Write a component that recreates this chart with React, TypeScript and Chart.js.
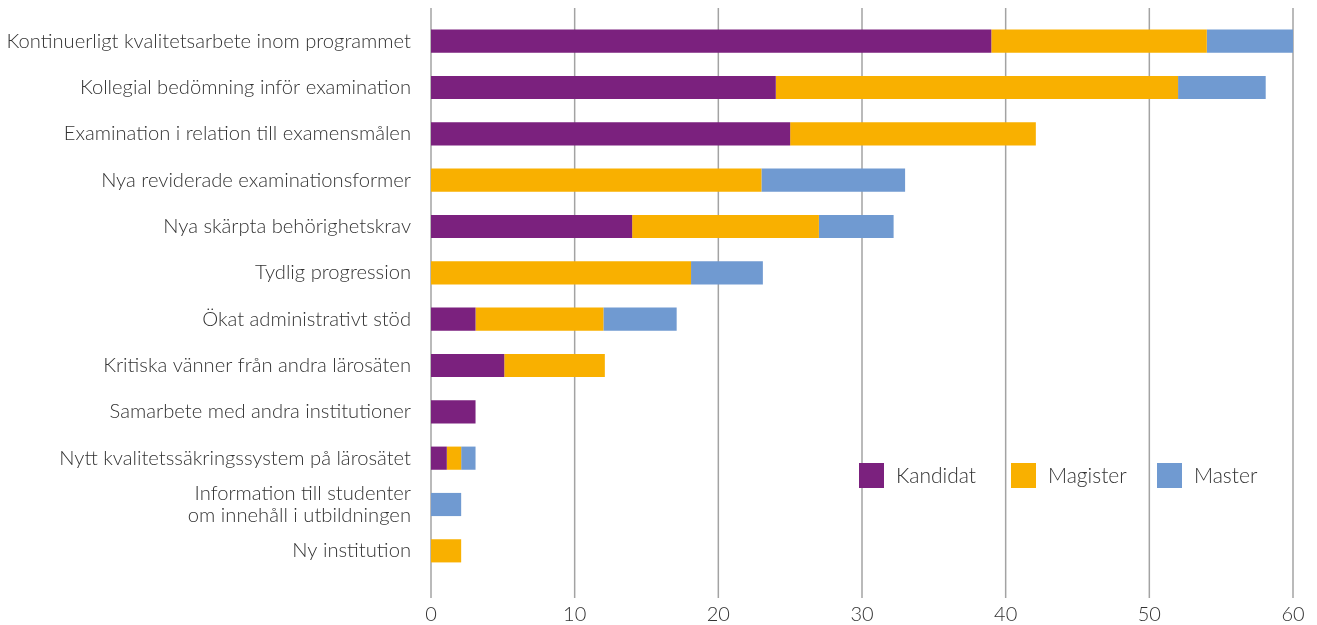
import React, { useEffect, useRef } from "react";
import { Chart, registerables } from "chart.js";

Chart.register(...registerables);

const categories: (string | string[])[] = [
  "Kontinuerligt kvalitetsarbete inom programmet",
  "Kollegial bedömning inför examination",
  "Examination i relation till examensmålen",
  "Nya reviderade examinationsformer",
  "Nya skärpta behörighetskrav",
  "Tydlig progression",
  "Ökat administrativt stöd",
  "Kritiska vänner från andra lärosäten",
  "Samarbete med andra institutioner",
  "Nytt kvalitetssäkringssystem på lärosätet",
  ["Information till studenter", "om innehåll i utbildningen"],
  "Ny institution",
];

const kandidat = [39, 24, 25, 0, 14, 0, 3.1, 5.1, 3.1, 1.1, 0, 0];
const magister = [15, 28, 17.1, 23, 13, 18.1, 8.9, 7, 0, 1, 0, 2.1];
const master = [6, 6.1, 0, 10, 5.2, 5, 5.1, 0, 0, 1, 2.1, 0];

const seriesNames = ["Kandidat", "Magister", "Master"];
const seriesColors = ["#7B217E", "#F9B000", "#709AD1"];

const xTicks = [0, 10, 20, 30, 40, 50, 60];

const FONT = "Lato, 'Open Sans', sans-serif";
const TEXT_COLOR = "#333333";

const gridPlugin = {
  id: "customGrid",
  beforeDatasetsDraw(chart: any) {
    const { ctx, scales } = chart;
    const xs = scales.x;
    ctx.save();
    ctx.strokeStyle = "#a3a3a3";
    ctx.lineWidth = 1.5;
    xTicks.forEach((v) => {
      const x = xs.getPixelForValue(v);
      ctx.beginPath();
      ctx.moveTo(x, 8);
      ctx.lineTo(x, 598);
      ctx.stroke();
    });
    ctx.restore();
  },
};

const legendPlugin = {
  id: "customLegend",
  afterDraw(chart: any) {
    const { ctx } = chart;
    const starts = [859, 1011, 1157];
    const top = 463;
    const size = 25;
    ctx.save();
    ctx.font = `300 21px ${FONT}`;
    ctx.textBaseline = "middle";
    ctx.textAlign = "left";
    chart.data.datasets.forEach((ds: any, i: number) => {
      ctx.fillStyle = ds.backgroundColor;
      ctx.fillRect(starts[i], top, size, size);
      ctx.fillStyle = TEXT_COLOR;
      ctx.fillText(ds.label, starts[i] + size + 12, top + size / 2 + 1);
    });
    ctx.restore();
  },
};

export default function App() {
  const ref = useRef<HTMLCanvasElement | null>(null);

  useEffect(() => {
    document.body.style.margin = "0";
    document.body.style.overflow = "hidden";
    const canvas = ref.current;
    if (!canvas) return;
    const chart = new Chart(canvas, {
      type: "bar",
      data: {
        labels: categories,
        datasets: [kandidat, magister, master].map((d, i) => ({
          label: seriesNames[i],
          data: d,
          backgroundColor: seriesColors[i],
          borderWidth: 0,
          categoryPercentage: 1,
          barPercentage: 0.5,
        })),
      },
      options: {
        indexAxis: "y",
        responsive: false,
        animation: false,
        layout: { padding: { top: 18, right: 24, left: 0, bottom: 0 } },
        plugins: {
          legend: { display: false },
          tooltip: { enabled: false },
        },
        scales: {
          x: {
            stacked: true,
            min: 0,
            max: 60,
            afterBuildTicks: (s: any) => {
              s.ticks = xTicks.map((v) => ({ value: v }));
            },
            grid: { display: false, drawTicks: false },
            border: { display: false },
            ticks: {
              padding: 29,
              color: TEXT_COLOR,
              font: { family: FONT, size: 20, weight: "300" },
            },
            afterFit: (s: any) => {
              s.height = 51;
              s.paddingLeft = 0;
              s.paddingRight = 0;
            },
          },
          y: {
            stacked: true,
            grid: { display: false, drawTicks: false },
            border: { display: false },
            ticks: {
              autoSkip: false,
              padding: 20,
              color: TEXT_COLOR,
              font: { family: FONT, size: 20.2, weight: "300", lineHeight: 1.1 },
            },
            afterFit: (s: any) => {
              s.width = 431;
              s.paddingTop = 0;
              s.paddingBottom = 0;
            },
          },
        },
      },
      plugins: [gridPlugin, legendPlugin],
    });
    return () => chart.destroy();
  }, []);

  return (
    <div style={{ width: 1317, height: 625 }}>
      <canvas ref={ref} width={1317} height={625} style={{ display: "block" }} />
    </div>
  );
}
